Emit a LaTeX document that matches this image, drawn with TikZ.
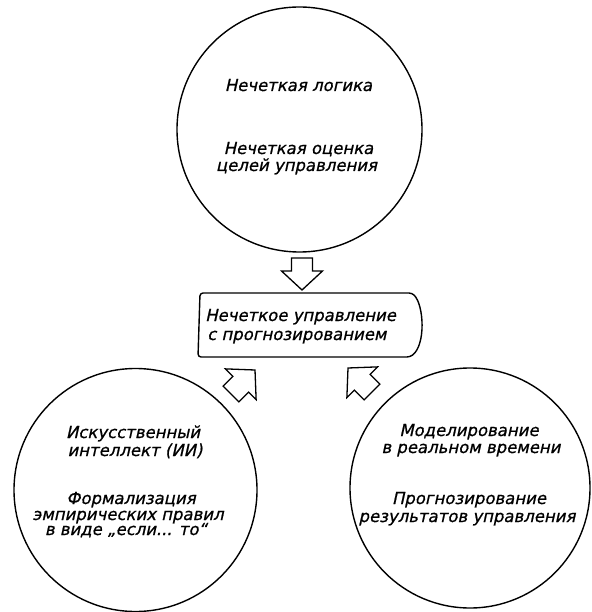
\documentclass[tikz,border=0pt]{standalone}
\usepackage{fontspec}
\setmainfont{DejaVu Sans}
\newfontfamily\draftfont{DejaVu Sans}[FakeSlant=0.22, FakeBold=0.9]
\begin{document}
\begin{tikzpicture}[x=1pt,y=-1pt,
  bigcircle/.style={circle, draw, line width=1.4pt, minimum size=#1, inner sep=0pt},
  lbl/.style={font=\draftfont\fontsize{16.5}{18}\selectfont, inner sep=0pt, anchor=base},
  lblw/.style={lbl, anchor=base west},
  blockarrow/.style={draw, line width=1.3pt, line join=miter, fill=white},
  boxline/.style={draw, line width=1.4pt, rounded corners=3pt}
]
\useasboundingbox (0,0) rectangle (591,612);

% circles
\node[bigcircle=245pt] (top) at (299.5,129.5) {};
\node[bigcircle=243pt] (left) at (135.5,490) {};
\node[bigcircle=240pt] (right) at (470,488) {};

% central box
\draw[boxline] (200,293) -- (412,293)
  .. controls (424,305) and (426,345) .. (410,357) -- (198,357) -- cycle;
\coordinate (box) at (306,325);

% block arrows (tip at origin, pointing along +x)
\coordinate (tipA) at (302,290);
\coordinate (tipB) at (255,370);
\coordinate (tipC) at (348,368);
\foreach \t/\a/\s in {tipA/-90/1, tipB/45/1.06, tipC/135/1.06}{
  \draw[blockarrow, shift={(\t)}, rotate=\a, scale=\s]
    (0,0) -- (-19,20.5) -- (-19,10.5) -- (-32,10.5) -- (-32,-10.5)
    -- (-19,-10.5) -- (-19,-20.5) -- cycle;
}

% top circle texts
\node[lbl] (t1) at (298.5,91) {Нечеткая логика};
\node[lbl] (t2) at (298.5,154) {Нечеткая оценка};
\node[lbl] (t3) at (296.5,171) {целей управления};

% box texts
\node[lblw] (b1) at (205,321) {Нечеткое управление};
\node[lblw] (b2) at (207,340) {с прогнозированием};

% left circle texts
\node[lbl] (l1) at (133,438) {Искусственный};
\node[lbl] (l2) at (135,456) {интеллект (ИИ)};
\node[lbl] (l3) at (131,504) {Формализация};
\node[lbl] (l4) at (128,520) {эмпирических правил};
\node[lbl] (l5) at (126,535) {в виде „если... то“};

% right circle texts
\node[lbl] (r1) at (469,436) {Моделирование};
\node[lbl] (r2) at (471,453) {в реальном времени};
\node[lbl] (r3) at (469,504) {Прогнозирование};
\node[lbl] (r4) at (467,522) {результатов управления};
\end{tikzpicture}
\end{document}
